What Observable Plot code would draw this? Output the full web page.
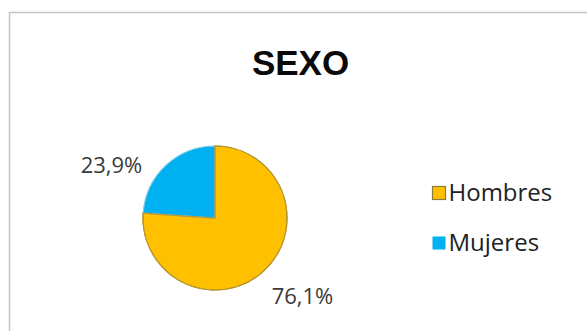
<!DOCTYPE html>
<html>
<head>
<meta charset="utf-8">
<script src="https://cdn.jsdelivr.net/npm/d3@7"></script>
<script src="https://cdn.jsdelivr.net/npm/@observablehq/plot@0.6"></script>
<style>
  html, body { margin: 0; padding: 0; background: #fff; }
  svg { display: block; }
</style>
</head>
<body>
<div id="chart"></div>
<script>
const categories = ["Hombres", "Mujeres"];
const values = [76.1, 23.9];
const labels = ["76,1%", "23,9%"];
const colors = ["#FFC000", "#00B0F0"];
const strokes = ["#B8962E", "#7FCBE8"];
const title = "SEXO";

const data = categories.map((c, i) => ({ category: c, value: values[i], label: labels[i] }));
const arcs = d3.pie().sort(null).value(d => d.value)(data);

const W = 587, H = 331;
const cx = 215, cy = 218, r = 72;

function pieMark(index, scales) {
  const g = d3.create("svg:g");
  const arc = d3.arc().innerRadius(0).outerRadius(r);
  const px = scales.x(cx), py = scales.y(cy);
  g.selectAll("path").data(arcs).join("path")
    .attr("transform", `translate(${px},${py})`)
    .attr("d", arc)
    .attr("fill", d => colors[categories.indexOf(d.data.category)])
    .attr("stroke", d => strokes[categories.indexOf(d.data.category)])
    .attr("stroke-width", 1.2);
  g.append("path")
    .attr("transform", `translate(${px},${py})`)
    .attr("d", arc(arcs[0]))
    .attr("fill", "none")
    .attr("stroke", strokes[0])
    .attr("stroke-width", 1.2);
  return g.node();
}

const labelPos = [{ x: 302, y: 296 }, { x: 111, y: 165 }];
const legendPos = [{ x: 439, y: 193 }, { x: 439, y: 243 }];

const chart = Plot.plot({
  width: W,
  height: H,
  margin: 0,
  x: { domain: [0, W], range: [0, W], axis: null },
  y: { domain: [0, H], range: [0, H], axis: null },
  style: { fontFamily: "'Open Sans', 'Liberation Sans', sans-serif", background: "#fff" },
  marks: [
    Plot.rect([{}], { x1: 9.5, x2: 700, y1: 12.5, y2: 700, fill: "none", stroke: "#c4c4c4", strokeWidth: 1.5 }),
    Plot.text([title], { x: 300, y: 63, text: d => d, fontSize: 35, fontWeight: "bold", fill: "#0a0a0a", fontFamily: "'Liberation Sans', Arial, sans-serif" }),
    pieMark,
    Plot.text(data, { x: (d, i) => labelPos[i].x, y: (d, i) => labelPos[i].y, text: "label", fontSize: 22, fill: "#3a3a3a" }),
    Plot.rect(data, { x1: (d, i) => legendPos[i].x - 6.5, x2: (d, i) => legendPos[i].x + 6.5, y1: (d, i) => legendPos[i].y - 6.5, y2: (d, i) => legendPos[i].y + 6.5, fill: d => colors[categories.indexOf(d.category)], stroke: (d, i) => i === 0 ? "#8a7a3a" : "none", strokeWidth: 1.2 }),
    Plot.text(data, { x: (d, i) => legendPos[i].x + 9, y: (d, i) => legendPos[i].y, text: "category", textAnchor: "start", fontSize: 24, fill: "#222" })
  ]
});
document.getElementById("chart").appendChild(chart);
</script>
</body>
</html>
